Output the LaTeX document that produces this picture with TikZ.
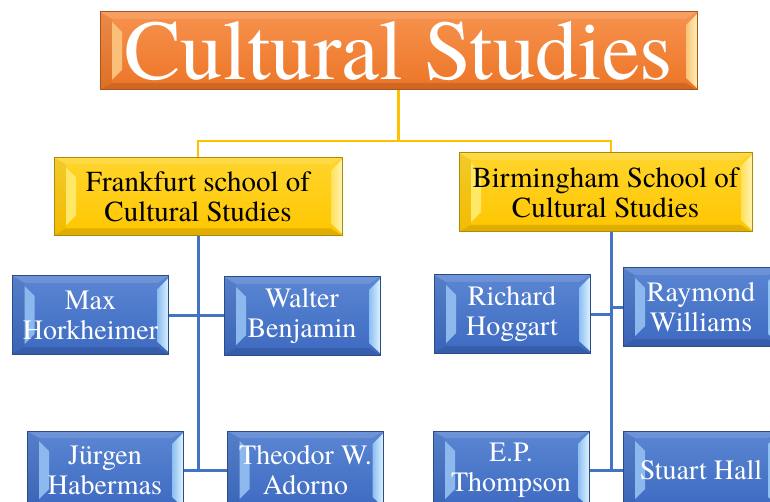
\documentclass[tikz,border=0pt]{standalone}
\usepackage{fontspec}
\setmainfont{TeX Gyre Termes}
\newfontfamily\trfont{TeX Gyre Termes}
\definecolor{orA}{HTML}{F7924E}
\definecolor{orB}{HTML}{EC7526}
\definecolor{orD}{HTML}{A9541E}
\definecolor{orL}{HTML}{FAC07A}
\definecolor{orRa}{HTML}{FBC27A}
\definecolor{orRb}{HTML}{FFF0B4}
\definecolor{ylA}{HTML}{FFD52C}
\definecolor{ylB}{HTML}{FFC600}
\definecolor{ylD}{HTML}{A88A10}
\definecolor{ylL}{HTML}{FFE866}
\definecolor{ylRa}{HTML}{FFE05A}
\definecolor{ylRb}{HTML}{FFF4AE}
\definecolor{blA}{HTML}{5B86D3}
\definecolor{blB}{HTML}{3D6AC1}
\definecolor{blD}{HTML}{2C4C88}
\definecolor{blL}{HTML}{8DB8EE}
\definecolor{blRa}{HTML}{8CBEF2}
\definecolor{blRb}{HTML}{DDF2FF}
\definecolor{ylLine}{HTML}{FFC000}
\definecolor{blLine}{HTML}{4472C4}
\newcommand\bevelfx[3]{%
  \fill[white,opacity=.12] (path picture bounding box.north west) -- (path picture bounding box.north east)
     -- ([shift={(-11pt,-7pt)}]path picture bounding box.north east) -- ([shift={(12pt,-7pt)}]path picture bounding box.north west) -- cycle;
  \fill[black,opacity=.12] (path picture bounding box.south west) -- (path picture bounding box.south east)
     -- ([shift={(-11pt,7pt)}]path picture bounding box.south east) -- ([shift={(12pt,7pt)}]path picture bounding box.south west) -- cycle;
  \fill[black,opacity=.05] (path picture bounding box.north west) -- ([shift={(12pt,-7pt)}]path picture bounding box.north west)
     -- ([shift={(12pt,7pt)}]path picture bounding box.south west) -- (path picture bounding box.south west) -- cycle;
  \fill[#1] ([shift={(12pt,-10pt)}]path picture bounding box.north west) -- ([shift={(22pt,-20pt)}]path picture bounding box.north west)
     -- ([shift={(22pt,20pt)}]path picture bounding box.south west) -- ([shift={(12pt,10pt)}]path picture bounding box.south west) -- cycle;
  \shade[left color=#2, right color=#3] ([shift={(0pt,-2pt)}]path picture bounding box.north east) -- ([shift={(-11pt,-13pt)}]path picture bounding box.north east)
     -- ([shift={(-11pt,12pt)}]path picture bounding box.south east) -- ([shift={(0pt,2pt)}]path picture bounding box.south east) -- cycle;
}
\tikzset{
  boxbase/.style={rectangle, line width=1pt, align=center, inner sep=0pt},
  titlebox/.style={boxbase, minimum width=597pt, minimum height=78pt, top color=orA, bottom color=orB, draw=orD,
     text=white, font=\trfont\fontsize{85}{85}\selectfont, path picture={\bevelfx{orL}{orRa}{orRb}}},
  schoolbox/.style={boxbase, minimum height=78pt, top color=ylA, bottom color=ylB, draw=ylD,
     text=black, font=\trfont\fontsize{29}{30}\selectfont, path picture={\bevelfx{ylL}{ylRa}{ylRb}}},
  personbox/.style={boxbase, minimum width=156pt, minimum height=78pt, top color=blA, bottom color=blB, draw=blD,
     text=white, font=\trfont\fontsize{28}{30}\selectfont, path picture={\bevelfx{blL}{blRa}{blRb}}},
  yline/.style={draw=ylLine, line width=2.5pt},
  bline/.style={draw=blLine, line width=3pt}
}
\begin{document}
\begin{tikzpicture}[x=1pt,y=-1pt]
\useasboundingbox (0,0) rectangle (770,502);
\clip (0,0) rectangle (770,502);
\node[titlebox] (title) at (398.5,51) {Cultural Studies};
\node[schoolbox, minimum width=288pt] (frank) at (198,196.5) {Frankfurt school of\\Cultural Studies};
\node[schoolbox, minimum width=293pt, minimum height=79pt] (bham) at (605.5,192.5) {Birmingham School of\\Cultural Studies};
\coordinate (ty) at (0,141);
\coordinate (btop) at ([xshift=5.5pt]bham.north);
\coordinate (bspine) at ([xshift=5.5pt]bham.south);
\draw[yline] (title.south) |- (frank.north |- ty) -- (frank.north);
\draw[yline] (title.south) |- (btop |- ty) -- (btop);
\node[personbox] (max) at (90.5,315) {Max\\Horkheimer};
\node[personbox] (walter) at (302,316) {Walter\\Benjamin};
\node[personbox] (jurgen) at (105,470) {Jürgen\\Habermas};
\node[personbox] (adorno) at (305.5,470) {Theodor W.\\Adorno};
\node[personbox] (richard) at (512,314) {Richard\\Hoggart};
\node[personbox] (raymond) at (701,307) {Raymond\\Williams};
\node[personbox] (thompson) at (511,470) {E.P.\\Thompson};
\node[personbox] (stuart) at (701,470) {Stuart Hall};
\draw[bline] (frank.south) -- (frank.south |- adorno.west);
\draw[bline] (max.east) -- (max.east -| walter.west);
\draw[bline] (jurgen.east) -- (adorno.west);
\draw[bline] (bspine) -- (bspine |- thompson.east);
\draw[bline] (richard.east) -- (richard.east -| bspine);
\draw[bline] (raymond.west) -- (raymond.west -| bspine);
\draw[bline] (thompson.east) -- (stuart.west);
\end{tikzpicture}
\end{document}
